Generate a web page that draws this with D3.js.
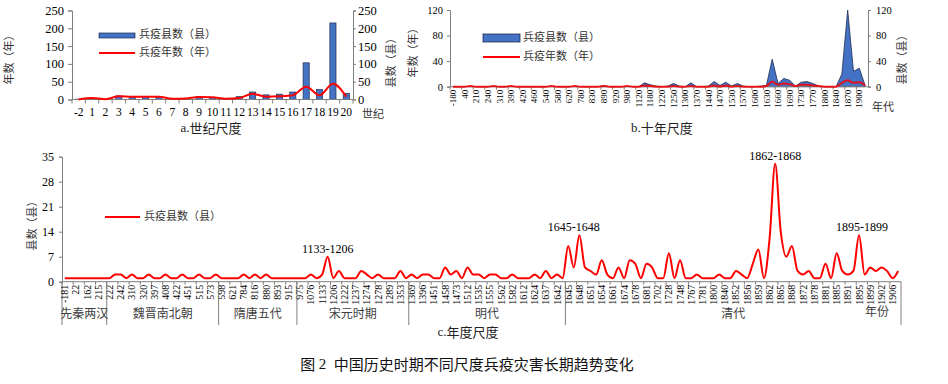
<!DOCTYPE html>
<html><head><meta charset="utf-8">
<script src="https://cdn.jsdelivr.net/npm/d3@7"></script>
<style>
body{margin:0;background:#fff}
svg{display:block}
</style></head><body>
<svg id="c" width="948" height="384"></svg>
<script>
// ---------- Panel a: century scale ----------
const centuries = ["-2","1","2","3","4","5","6","7","8","9","10","11","12","13","14","15","16","17","18","19","20"];
const centuryCounties = [1,0,0,10,8,8,8,2,3,8,6,1,8,21,13,15,21,103,28,215,17];
const centuryYears = [0,4,1,9,8,8,8,2,3,7,6,2,4,16,8,9,12,36,12,44,8];
const axisATicks = [0,50,100,150,200,250];

// ---------- Panel b: decade scale ----------
const decadeLabels = ["-180","40","210","240","310","390","420","460","540","580","620","780","830","890","920","980","1120","1180","1220","1250","1300","1370","1440","1470","1530","1570","1600","1630","1660","1690","1730","1770","1800","1840","1870","1900"];
const decadeCounties = [0,0,0,1,0,0,0,1,0,0, 1,0,0,0,0,0,0,1,0,0, 0,1,0,0,0,0,2,0,0,0, 1,0,0,6,3,1,0,1,5,1, 0,6,0,0,1,8,2,7,1,5, 1,0,0,1,2,43,5,13,10,1, 7,8,5,1,0,0,0,20,120,24, 29,2];
const decadeYears = [0,0,0,1,0,0,0,1,0,0, 1,0,0,0,0,0,0,1,0,0, 0,1,0,0,0,0,1,0,0,0, 1,0,0,2,1,0,0,0,1,0, 0,1,0,0,0,2,0,2,0,1, 0,0,0,0,1,8,3,5,4,1, 3,3,2,1,0,0,0,6,10,6, 7,2];
const axisBTicks = [0,40,80,120];

// ---------- Panel c: year scale ----------
const yearLabels = ["-181","22","162","215","222","242","310","320","397","408","422","451","515","573","598","621","784","816","880","893","915","975","1076","1133","1206","1222","1237","1274","1278","1289","1353","1369","1396","1451","1458","1473","1512","1535","1555","1562","1582","1612","1624","1637","1642","1645","1648","1651","1654","1661","1674","1678","1681","1702","1728","1748","1767","1781","1800","1840","1852","1856","1859","1862","1865","1868","1872","1878","1881","1885","1891","1895","1899","1902","1906"];
const yearCounties = [
 1,1,1,1,1,1,1,1,1,2,
 2,1,2,1,1,2,1,1,2,1,
 1,2,1,1,2,1,1,2,1,1,
 1,1,2,1,2,1,2,1,1,1,
 1,1,1,1,2,1,2,7,1,3,
 1,1,1,3,2,1,2,1,1,1,
 3,1,2,1,2,2,1,1,4,2,
 3,1,4,2,2,1,2,2,1,1,
 2,1,1,1,2,1,3,1,2,1,
 10,4,13,4,3,2,6,2,1,4,
 1,6,5,1,5,4,1,1,8,1,
 6,1,1,2,1,1,1,2,1,1,
 3,2,1,5,9,1,12,33,14,7,
 10,3,2,3,1,1,5,1,8,3,
 2,3,13,2,4,3,4,3,1,3];
const periods = ["先秦两汉","魏晋南北朝","隋唐五代","宋元时期","明代","清代"];
const periodStarts = [0,8,28,42,62,90];
const peakNotes = ["1133-1206","1645-1648","1862-1868","1895-1899"];
const peakIndex = [47,91,127,142];
const peakValue = [7,13,33,13];
const axisCTicks = [0,7,14,21,28,35];

const AX = "#7f7f7f", RED = "#ff0000", BLUE = "#4472c4", EDGE = "#1f2d50";
const CJK = '"Noto Sans CJK SC","Noto Sans",sans-serif';
const SERIF = '"Liberation Serif","Times New Roman",serif';
const svg = d3.select("#c");

function styleAxis(g, fs){
  g.select(".domain").attr("stroke",AX);
  g.selectAll(".tick line").attr("stroke",AX);
  g.selectAll("text").attr("font-family",SERIF).attr("font-size",fs).attr("fill","#000");
}
function cjk(x,y,t,fs,opt={}){
  const el = svg.append("text").attr("x",x).attr("y",y).text(t)
    .attr("font-family",CJK).attr("font-size",fs).attr("fill",opt.fill||"#333")
    .attr("text-anchor",opt.anchor||"start").attr("dominant-baseline","middle");
  if(opt.rot) el.attr("transform",`rotate(-90,${x},${y})`).attr("text-anchor","middle");
  return el;
}

// ================= Panel a =================
const xa = d3.scaleBand().domain(centuries).range([72,353]);
const ya = d3.scaleLinear().domain([0,250]).range([99.5,10.5]);
svg.append("g").attr("transform","translate(72,0)")
  .call(d3.axisLeft(ya).tickValues(axisATicks).tickSize(4).tickPadding(4)).call(styleAxis,12.5);
svg.append("g").attr("transform","translate(353,0)")
  .call(d3.axisRight(ya).tickValues(axisATicks).tickSize(3).tickPadding(2)).call(styleAxis,12.5);
svg.append("g").attr("transform",`translate(0,${ya(0)})`)
  .call(d3.axisBottom(xa).tickSize(0).tickPadding(8)).call(styleAxis,11.5)
  .call(g=>g.select(".domain").remove());
svg.append("g").selectAll("line").data(d3.range(centuries.length+1)).join("line")
  .attr("x1",i=>xa.range()[0]+i*xa.step()).attr("x2",i=>xa.range()[0]+i*xa.step())
  .attr("y1",ya(0)).attr("y2",ya(0)+4).attr("stroke",AX);
svg.append("g").selectAll("rect").data(centuries).join("rect")
  .attr("x",(c)=>xa(c)+xa.bandwidth()*0.27).attr("width",xa.bandwidth()*0.46)
  .attr("y",(c,i)=>ya(centuryCounties[i])).attr("height",(c,i)=>ya(0)-ya(centuryCounties[i]))
  .attr("fill",BLUE).attr("stroke",EDGE).attr("stroke-width",0.7);
svg.append("line").attr("x1",72).attr("x2",353).attr("y1",ya(0)).attr("y2",ya(0)).attr("stroke",AX);
svg.append("path").datum(centuries)
  .attr("d",d3.line().x(c=>xa(c)+xa.bandwidth()/2).y((c,i)=>ya(centuryYears[i])).curve(d3.curveMonotoneX))
  .attr("fill","none").attr("stroke",RED).attr("stroke-width",2);
// legend a
svg.append("rect").attr("x",99).attr("y",33).attr("width",36).attr("height",5).attr("fill",BLUE).attr("stroke",EDGE).attr("stroke-width",0.7);
cjk(139,35.5,"兵疫县数（县）",11);
svg.append("line").attr("x1",99).attr("x2",135).attr("y1",53).attr("y2",53).attr("stroke",RED).attr("stroke-width",2);
cjk(139,53,"兵疫年数（年）",11);
cjk(10,57,"年数（年）",11,{rot:true});
cjk(392,60,"县数（县）",11,{rot:true});
cjk(362,115,"世纪",11);
svg.append("text").attr("x",211).attr("y",129).attr("text-anchor","middle").attr("dominant-baseline","middle")
  .attr("font-size",13).attr("fill","#222").attr("font-family",CJK)
  .call(t=>{t.append("tspan").attr("font-family",SERIF).text("a.");t.append("tspan").text("世纪尺度");});

// ================= Panel b =================
const xb = d3.scaleBand().domain(d3.range(decadeCounties.length)).range([450,868]);
const yb = d3.scaleLinear().domain([0,120]).range([86.7,10]);
svg.append("g").attr("transform","translate(450,0)")
  .call(d3.axisLeft(yb).tickValues(axisBTicks).tickSize(3).tickPadding(4)).call(styleAxis,10.5);
svg.append("g").attr("transform","translate(868,0)")
  .call(d3.axisRight(yb).tickValues(axisBTicks).tickSize(3).tickPadding(5)).call(styleAxis,10.5);
const evenB = d3.range(0,decadeCounties.length,2);
svg.append("g").attr("transform",`translate(0,${yb(0)})`)
  .call(d3.axisBottom(xb).tickValues(evenB).tickFormat(i=>decadeLabels[i/2]).tickSize(0)).call(styleAxis,9)
  .call(g=>{g.select(".domain").remove();
    g.selectAll("text").attr("transform","rotate(-90)").attr("x",-3).attr("y",0).attr("dy","0.35em").attr("text-anchor","end");});
svg.append("g").selectAll("line").data(evenB).join("line")
  .attr("x1",i=>xb(i)).attr("x2",i=>xb(i)).attr("y1",yb(0)).attr("y2",yb(0)+3).attr("stroke",AX);
const cxb = i=>xb(i)+xb.bandwidth()/2;
svg.append("path").datum(decadeCounties)
  .attr("d",d3.area().x((d,i)=>cxb(i)).y0(yb(0)).y1(d=>yb(d)))
  .attr("fill",BLUE).attr("stroke",EDGE).attr("stroke-width",0.8);
svg.append("line").attr("x1",450).attr("x2",868).attr("y1",yb(0)).attr("y2",yb(0)).attr("stroke",AX);
svg.append("path").datum(decadeYears)
  .attr("d",d3.line().x((d,i)=>cxb(i)).y(d=>yb(d)).curve(d3.curveMonotoneX))
  .attr("fill","none").attr("stroke",RED).attr("stroke-width",2).attr("opacity",0.85);
svg.append("rect").attr("x",483).attr("y",34).attr("width",37).attr("height",8).attr("fill",BLUE).attr("stroke",EDGE).attr("stroke-width",0.8);
cjk(523,38,"兵疫县数（县）",11);
svg.append("line").attr("x1",483).attr("x2",520).attr("y1",57).attr("y2",57).attr("stroke",RED).attr("stroke-width",2);
cjk(523,57,"兵疫年数（年）",11);
cjk(414,50,"年数（年）",11,{rot:true});
cjk(903,57,"县数（县）",11,{rot:true});
cjk(872,108,"年代",11);
svg.append("text").attr("x",662).attr("y",129).attr("text-anchor","middle").attr("dominant-baseline","middle")
  .attr("font-size",13).attr("fill","#222").attr("font-family",CJK)
  .call(t=>{t.append("tspan").attr("font-family",SERIF).text("b.");t.append("tspan").text("十年尺度");});

// ================= Panel c =================
const xc = d3.scaleBand().domain(d3.range(yearCounties.length)).range([62,901]);
const yc = d3.scaleLinear().domain([0,35]).range([281.7,156.7]);
const cxc = i=>xc(i)+xc.bandwidth()/2;
svg.append("g").attr("transform","translate(62,0)")
  .call(d3.axisLeft(yc).tickValues(axisCTicks).tickSize(3).tickPadding(5)).call(styleAxis,12);
svg.append("line").attr("x1",62).attr("x2",62).attr("y1",281.7).attr("y2",325).attr("stroke",AX);
svg.append("line").attr("x1",901).attr("x2",901).attr("y1",281.7).attr("y2",325).attr("stroke",AX);
const evenC = d3.range(0,yearCounties.length,2);
svg.append("g").attr("transform",`translate(0,${yc(0)})`)
  .call(d3.axisBottom(xc).tickValues(evenC).tickFormat(i=>yearLabels[i/2]).tickSize(0)).call(styleAxis,10)
  .call(g=>{g.select(".domain").attr("d",`M62,0H901`);
    g.selectAll("text").attr("transform","rotate(-90)").attr("x",-3).attr("y",0).attr("dy","0.35em").attr("text-anchor","end");});
svg.append("g").selectAll("line").data(evenC).join("line")
  .attr("x1",i=>xc(i)).attr("x2",i=>xc(i)).attr("y1",yc(0)).attr("y2",yc(0)+3).attr("stroke",AX);
svg.append("g").selectAll("line").data(periodStarts.slice(1)).join("line")
  .attr("x1",i=>xc(i)).attr("x2",i=>xc(i)).attr("y1",yc(0)).attr("y2",325).attr("stroke",AX);
periods.forEach((p,k)=>{
  const a = periodStarts[k], b = k+1<periodStarts.length ? periodStarts[k+1] : yearCounties.length;
  const x0 = xc(a), x1 = b<yearCounties.length ? xc(b) : 901;
  cjk((x0+x1)/2,315,p,12,{anchor:"middle",fill:"#404040"});
});
cjk(877,313,"年份",12,{anchor:"middle",fill:"#404040"});
svg.append("path").datum(yearCounties)
  .attr("d",d3.line().x((d,i)=>cxc(i)).y(d=>yc(d)).curve(d3.curveMonotoneX))
  .attr("fill","none").attr("stroke",RED).attr("stroke-width",2);
peakNotes.forEach((t,k)=>{
  svg.append("text").attr("x",cxc(peakIndex[k])+(k===3?3:0)).attr("y",yc(peakValue[k])-4)
    .attr("text-anchor","middle").attr("font-family",SERIF).attr("font-size",12).attr("fill","#000").text(t);
});
svg.append("line").attr("x1",105).attr("x2",140).attr("y1",217).attr("y2",217).attr("stroke",RED).attr("stroke-width",2);
cjk(144,217,"兵疫县数（县）",11);
cjk(33,223,"县数（县）",11,{rot:true});
svg.append("text").attr("x",468).attr("y",333).attr("text-anchor","middle").attr("dominant-baseline","middle")
  .attr("font-size",13).attr("fill","#222").attr("font-family",CJK)
  .call(t=>{t.append("tspan").attr("font-family",SERIF).text("c.");t.append("tspan").text("年度尺度");});

// caption
svg.append("text").attr("x",467).attr("y",366).attr("text-anchor","middle").attr("dominant-baseline","middle")
  .attr("font-size",15).attr("fill","#111").attr("font-family",CJK).style("white-space","pre")
  .call(t=>{t.append("tspan").text("图 ");t.append("tspan").attr("font-family",SERIF).text("2  ");
    t.append("tspan").text("中国历史时期不同尺度兵疫灾害长期趋势变化");});
</script>
</body></html>
